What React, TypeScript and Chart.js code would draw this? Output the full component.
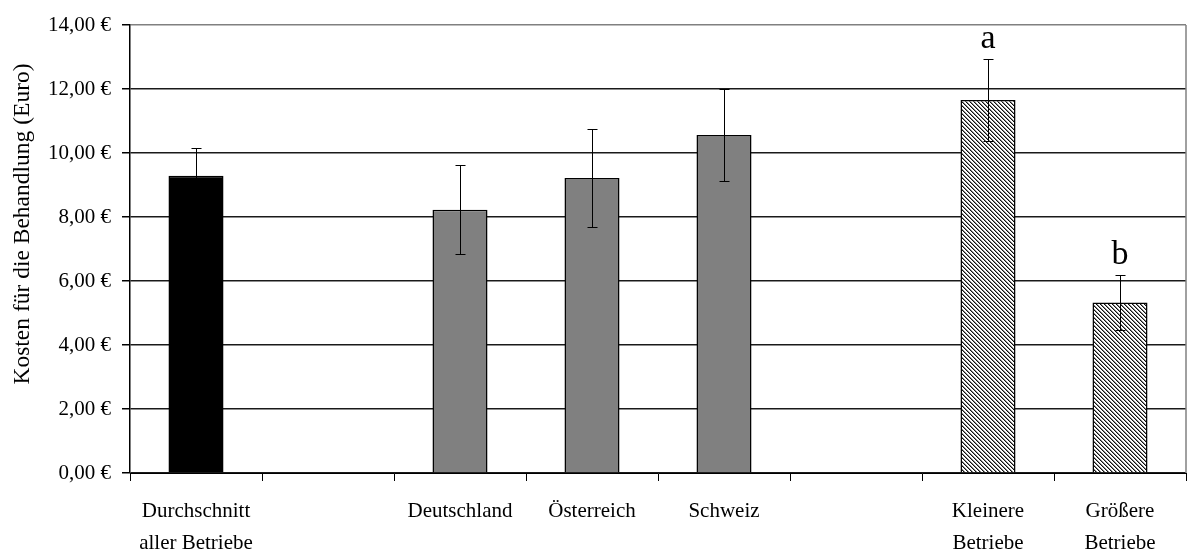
import React, { useEffect, useRef } from "react";
import { Chart, registerables } from "chart.js";

Chart.register(...registerables);

// Categories (empty strings are spacer columns between the groups)
const categories: (string | string[])[] = [
  ["Durchschnitt", "aller Betriebe"],
  "",
  "Deutschland",
  "Österreich",
  "Schweiz",
  "",
  ["Kleinere", "Betriebe"],
  ["Größere", "Betriebe"],
];

// Mean treatment cost per category (Euro)
const meanCost: (number | null)[] = [9.29, null, 8.23, 9.22, 10.56, null, 11.66, 5.33];

// Standard error (half-width of the error bar)
const errorHalf: (number | null)[] = [0.88, null, 1.39, 1.54, 1.44, null, 1.29, 0.87];

// Significance letters shown above the error bars
const sigLetters: string[] = ["", "", "", "", "", "", "a", "b"];

// Y-axis range
const yMin = 0;
const yMax = 14;
const yStep = 2;

const SERIF = "'Liberation Serif', 'Times New Roman', serif";

function makeHatch(ctx: CanvasRenderingContext2D): CanvasPattern | string {
  const size = 4;
  const c = document.createElement("canvas");
  c.width = size;
  c.height = size;
  const g = c.getContext("2d");
  if (!g) return "#888";
  g.fillStyle = "#fff";
  g.fillRect(0, 0, size, size);
  for (let y = 0; y < size; y++) {
    for (let x = 0; x < size; x++) {
      const d = (((x - y) % size) + size) % size;
      if (d === 0) {
        g.fillStyle = "#111";
        g.fillRect(x, y, 1, 1);
      } else if (d === 1) {
        g.fillStyle = "#888";
        g.fillRect(x, y, 1, 1);
      }
    }
  }
  return ctx.createPattern(c, "repeat") || "#888";
}

export default function App() {
  const canvasRef = useRef<HTMLCanvasElement | null>(null);

  useEffect(() => {
    const canvas = canvasRef.current;
    if (!canvas) return;
    const ctx = canvas.getContext("2d");
    if (!ctx) return;
    const hatch = makeHatch(ctx);

    const fills = ["#000000", "#ffffff", "#808080", "#808080", "#808080", "#ffffff", hatch, hatch];

    const errorBars = {
      id: "errorBars",
      afterDatasetsDraw(chart: any) {
        const c = chart.ctx;
        const meta = chart.getDatasetMeta(0);
        const ys = chart.scales.y;
        c.save();
        c.strokeStyle = "#000";
        c.lineWidth = 1;
        meta.data.forEach((bar: any, i: number) => {
          const v = meanCost[i];
          const e = errorHalf[i];
          if (v == null || e == null) return;
          const x = Math.round(bar.x) + 0.5;
          const yt = Math.round(ys.getPixelForValue(v + e)) + 0.5;
          const yb = Math.round(ys.getPixelForValue(v - e)) + 0.5;
          c.beginPath();
          c.moveTo(x, yt);
          c.lineTo(x, yb);
          c.moveTo(x - 5, yt);
          c.lineTo(x + 5, yt);
          c.moveTo(x - 5, yb);
          c.lineTo(x + 5, yb);
          c.stroke();
          const letter = sigLetters[i];
          if (letter) {
            c.fillStyle = "#000";
            c.font = `34px ${SERIF}`;
            c.textAlign = "center";
            c.textBaseline = "alphabetic";
            c.fillText(letter, bar.x, yt - 12);
          }
        });
        c.restore();
      },
    };

    const frame = {
      id: "frame",
      afterDraw(chart: any) {
        const c = chart.ctx;
        const a = chart.chartArea;
        c.save();
        c.strokeStyle = "#808080";
        c.lineWidth = 1.5;
        c.beginPath();
        c.moveTo(a.right, a.top);
        c.lineTo(a.right, a.bottom);
        c.stroke();
        // rotated y-axis title
        c.fillStyle = "#000";
        c.font = `23.5px ${SERIF}`;
        c.textAlign = "center";
        c.textBaseline = "middle";
        c.translate(23, 224);
        c.rotate(-Math.PI / 2);
        c.fillText("Kosten für die Behandlung (Euro)", 0, 0);
        c.restore();
      },
    };

    const chart = new Chart(canvas, {
      type: "bar",
      data: {
        labels: categories,
        datasets: [
          {
            data: meanCost,
            backgroundColor: fills,
            borderColor: "#000",
            borderWidth: 1.5,
            barPercentage: 0.417,
            categoryPercentage: 1,
          },
        ],
      },
      options: {
        animation: false,
        responsive: true,
        maintainAspectRatio: false,
        layout: { padding: { top: 25, right: 2, left: 0, bottom: 0 } },
        plugins: {
          legend: { display: false },
          tooltip: { enabled: false },
          title: { display: false },
        },
        scales: {
          x: {
            offset: true,
            grid: {
              offset: true,
              drawOnChartArea: false,
              drawTicks: true,
              tickLength: 8,
              color: "#000",
              lineWidth: 1,
            },
            border: { display: true, color: "#000", width: 1 },
            ticks: {
              autoSkip: false,
              maxRotation: 0,
              minRotation: 0,
              padding: 14,
              color: "#000",
              font: { family: SERIF, size: 21, lineHeight: 1.55 },
            },
            afterFit(scale: any) {
              scale.height = 78;
            },
          },
          y: {
            min: yMin,
            max: yMax,
            ticks: {
              stepSize: yStep,
              padding: 11,
              color: "#000",
              font: { family: SERIF, size: 21 },
              callback: (v: any) => Number(v).toFixed(2).replace(".", ",") + " €",
            },
            grid: {
              color: (c: any) => (c.tick && c.tick.value === yMax ? "#808080" : "#1a1a1a"),
              tickColor: "#000",
              lineWidth: 1.5,
              tickLength: 8,
              drawTicks: true,
            },
            border: { display: true, color: "#000", width: 1.5 },
            afterFit(scale: any) {
              scale.width = 130;
            },
          },
        },
      },
      plugins: [errorBars, frame],
    });

    return () => chart.destroy();
  }, []);

  return (
    <div style={{ position: "fixed", left: 0, top: 0, width: 1188, height: 551, background: "#fff" }}>
      <canvas ref={canvasRef} />
    </div>
  );
}
